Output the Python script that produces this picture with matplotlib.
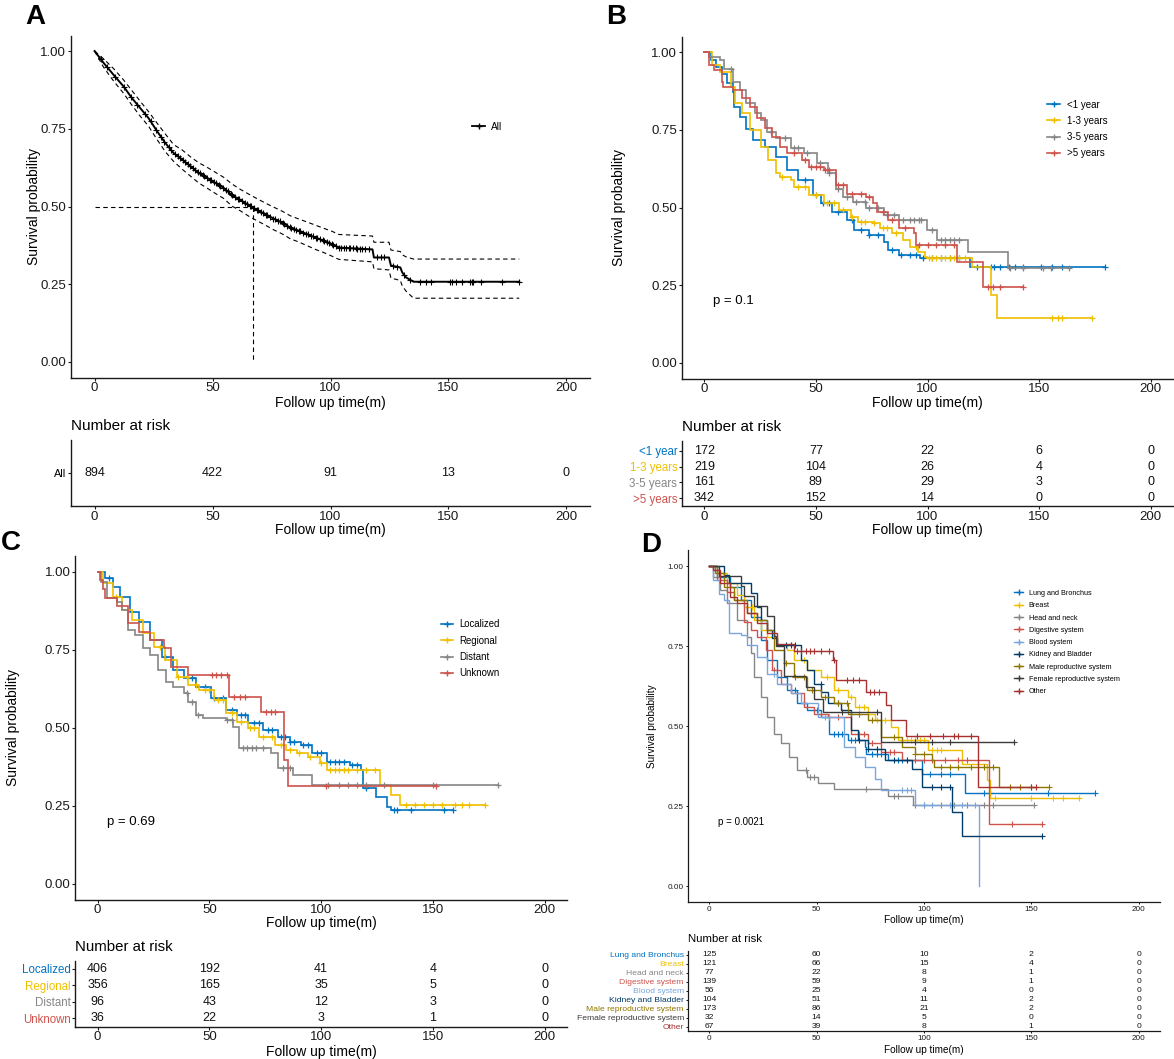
import numpy as np
import matplotlib
matplotlib.use('Agg')
import matplotlib.pyplot as plt
from matplotlib.lines import Line2D

plt.rcParams['font.family'] = ['Liberation Sans', 'DejaVu Sans']

# ---------------- data ----------------
x_ticks = [0, 50, 100, 150, 200]
y_ticks = [0, 0.25, 0.5, 0.75, 1.0]
y_tick_labels = ['0.00', '0.25', '0.50', '0.75', '1.00']
risk_times = [0, 50, 100, 150, 200]
jco = ['#0073C2', '#EFC000', '#868686', '#CD534C', '#7AA6DC',
       '#003C67', '#8F7700', '#3B3B3B', '#A73030']

# Panel A (all patients) - curve vertices
a_times = [0, 3.8, 8.1, 12.3, 15.9, 19.4, 22.9, 26.5, 30, 33.5, 37.1, 40.6, 44.1, 47.7, 51.2,
           54.7, 58.3, 61.8, 65.3, 68.9, 72.4, 75.9, 79.5, 83, 86.5, 90.1, 93.6, 97.1, 100.7,
           103.5, 117.8, 118.4, 124.8, 125.6, 129.6, 130.4, 132, 135.2, 180]
a_surv = [1.0, 0.962, 0.923, 0.886, 0.848, 0.816, 0.784, 0.742, 0.704, 0.672, 0.651, 0.63,
          0.608, 0.592, 0.576, 0.56, 0.536, 0.521, 0.504, 0.489, 0.475, 0.461, 0.448, 0.432,
          0.422, 0.411, 0.4, 0.39, 0.379, 0.368, 0.362, 0.336, 0.336, 0.31, 0.304, 0.288,
          0.272, 0.258, 0.258]
a_upper = [1.0, 0.975, 0.943, 0.907, 0.872, 0.838, 0.805, 0.768, 0.733, 0.699, 0.682, 0.66,
           0.641, 0.626, 0.61, 0.594, 0.572, 0.555, 0.54, 0.525, 0.511, 0.498, 0.485, 0.47,
           0.46, 0.45, 0.44, 0.43, 0.42, 0.41, 0.405, 0.385, 0.385, 0.36, 0.355, 0.345, 0.338,
           0.331, 0.331]
a_lower = [1.0, 0.948, 0.903, 0.864, 0.825, 0.79, 0.758, 0.715, 0.676, 0.645, 0.62, 0.598,
           0.576, 0.559, 0.542, 0.526, 0.501, 0.486, 0.469, 0.454, 0.44, 0.425, 0.412, 0.396,
           0.386, 0.374, 0.362, 0.352, 0.34, 0.33, 0.322, 0.3, 0.296, 0.27, 0.262, 0.245,
           0.228, 0.205, 0.205]
a_censor = [2.7, 5.3, 8.8, 12.4, 15.6, 18.1, 21.3, 23.8, 26.2, 28.1, 29.6, 31.4, 32.3, 33.9,
            35.2, 36.1, 37.4, 38.2, 39.5, 40.3, 41.6, 42.4, 43.7, 44.5, 45.8, 46.3, 47.6, 48.9,
            49.4, 50.7, 51.5, 52.8, 53.3, 54.6, 55.9, 56.4, 57.7, 58.2, 59.5, 60.8, 61.3, 62.6,
            63.9, 64.4, 65.7, 66.2, 67.5, 68.8, 69.3, 70.6, 71.4, 72.7, 73.2, 74.5, 75.8, 76.3,
            77.6, 78.4, 79.7, 80.2, 81.5, 82.8, 83.3, 84.6, 85.4, 86.7, 87.2, 88.5, 89.8, 90.3,
            91.6, 92.4, 93.7, 94.2, 95.5, 96.8, 97.3, 98.6, 99.4, 100.7, 101.2, 102.5, 103.8,
            104.3, 105.6, 106.4, 107.7, 108.2, 109.5, 110.8, 111.3, 112.6, 113.4, 114.7, 116.2,
            119.5, 121.3, 122.8, 126.4, 128.2, 131.1, 133.6, 138, 140.5, 142.8, 150.8, 151.7,
            153.3, 155.7, 159, 159.8, 160.5, 163.6, 172.5, 179.7]
a_median = 67.3
a_names = ['All']
a_risk = [[894, 422, 91, 13, 0]]

# Panel B (by duration)
b_names = ['<1 year', '1-3 years', '3-5 years', '>5 years']
b_times = [
    [0, 3, 5.3, 8, 10, 12.8, 13.5, 16, 18.6, 22, 27, 32, 37.1, 42.1, 48.8, 52.2, 57.2, 63.9,
     67.2, 73.9, 80.6, 82.3, 87.3, 96.5, 119.1],
    [0, 3.6, 6.9, 11.95, 13.6, 17, 20.3, 25.3, 28.7, 32, 33.7, 38.7, 40.4, 47.1, 53.8, 60.5,
     65.5, 68.9, 75.6, 78.9, 83.9, 89, 92.3, 95.7, 99, 99.9, 120, 128.5, 131],
    [0, 1.9, 6.9, 8.6, 12.8, 16.1, 18.6, 22.8, 25.3, 27.9, 32, 38.7, 44.6, 50.5, 55.5, 58.8,
     62.2, 66.4, 72.3, 80.6, 87.3, 99.9, 104.1, 118.3, 135.9],
    [0, 1.9, 4.4, 7.8, 8.5, 12.8, 17, 20.3, 23.7, 27, 30.4, 33.7, 37.1, 43.8, 47.1, 53.8, 58.8,
     63.9, 72.3, 75.6, 77.3, 82.3, 87.3, 94, 94.9, 113.3, 125],
]
b_surv = [
    [1.0, 0.975, 0.953, 0.93, 0.9, 0.87, 0.824, 0.79, 0.754, 0.717, 0.696, 0.663, 0.62, 0.588,
     0.54, 0.513, 0.486, 0.46, 0.428, 0.411, 0.39, 0.363, 0.347, 0.336, 0.31],
    [1.0, 0.958, 0.937, 0.888, 0.835, 0.803, 0.749, 0.696, 0.653, 0.61, 0.599, 0.588, 0.567,
     0.54, 0.513, 0.492, 0.47, 0.454, 0.449, 0.433, 0.417, 0.395, 0.374, 0.358, 0.342, 0.336,
     0.31, 0.22, 0.145],
    [1.0, 0.985, 0.974, 0.947, 0.905, 0.878, 0.835, 0.803, 0.781, 0.744, 0.722, 0.69, 0.674,
     0.642, 0.61, 0.561, 0.535, 0.519, 0.497, 0.476, 0.46, 0.428, 0.395, 0.358, 0.305],
    [1.0, 0.958, 0.942, 0.905, 0.888, 0.878, 0.851, 0.824, 0.787, 0.755, 0.728, 0.696, 0.674,
     0.653, 0.631, 0.62, 0.572, 0.545, 0.535, 0.513, 0.486, 0.46, 0.433, 0.417, 0.379, 0.326,
     0.245],
]
b_end = [179.5, 173.6, 163.5, 142.6]
b_censor = [
    [45, 50, 53, 56, 60, 66, 70, 74, 78, 84, 88, 92, 95, 98, 102, 106, 110, 114, 122, 128.4,
     130, 132.6, 136.7, 139.3, 142.6, 151, 156, 160.2, 179.5],
    [35, 42, 45, 50, 55, 58, 62, 66, 70, 72, 76, 80, 82, 86, 95, 100.5, 102, 104, 106, 108,
     110, 112, 114, 117, 156, 158.5, 160.2, 173.6],
    [12, 30, 36, 40, 42, 46, 52, 56, 60, 64, 68, 72, 74, 78, 82, 85, 89, 92, 94, 96, 97, 102,
     106, 108, 110, 112, 114, 137, 142.6, 151.8, 155.2, 163.5],
    [40, 45, 48, 50, 52, 54, 56, 60, 62, 66, 70, 74, 80, 84, 90, 96, 100, 104, 108, 112, 127,
     129.2, 132.6, 142.6],
]
b_risk = [[172, 77, 22, 6, 0], [219, 104, 26, 4, 0], [161, 89, 29, 3, 0], [342, 152, 14, 0, 0]]
b_pval = 'p = 0.1'

# Panel C (by stage)
c_names = ['Localized', 'Regional', 'Distant', 'Unknown']
c_times = [
    [0, 3.4, 6.8, 10.2, 14.4, 18.6, 23.6, 28.7, 33.7, 38.8, 43.8, 50.5, 57.3, 62.3, 67.4,
     74.1, 80.8, 85.9, 90.9, 96, 102.7, 112.8, 117.9, 118.7, 124.6, 129.6, 131.3],
    [0, 2.6, 6.8, 11, 15.2, 20.3, 25.3, 30.3, 35.4, 40.4, 45.5, 52.2, 57.3, 62.3, 67.4, 72.4,
     79.2, 84.2, 89.3, 94.3, 99.4, 102.7, 126.3, 131.3, 135.5],
    [0, 1.7, 4.3, 8.5, 11, 13.5, 16.9, 20.3, 23.6, 27, 30.4, 33.7, 38.8, 40.4, 43.8, 47.2,
     57.3, 60.6, 63.2, 77.5, 80.8, 87.6, 96],
    [0, 0.9, 2.5, 3.4, 8.5, 13.5, 18.6, 23.6, 29.5, 32.9, 40.4, 58.9, 73.3, 83.4, 85.1],
]
c_surv = [
    [1.0, 0.979, 0.952, 0.92, 0.872, 0.84, 0.781, 0.728, 0.685, 0.659, 0.632, 0.595, 0.557,
     0.541, 0.515, 0.493, 0.472, 0.456, 0.445, 0.419, 0.392, 0.381, 0.365, 0.307, 0.28, 0.248,
     0.237],
    [1.0, 0.963, 0.92, 0.877, 0.845, 0.803, 0.76, 0.717, 0.664, 0.637, 0.621, 0.589, 0.547,
     0.52, 0.499, 0.472, 0.445, 0.429, 0.419, 0.408, 0.387, 0.365, 0.317, 0.285, 0.253],
    [1.0, 0.968, 0.915, 0.904, 0.877, 0.813, 0.797, 0.755, 0.733, 0.685, 0.648, 0.632, 0.611,
     0.584, 0.541, 0.531, 0.525, 0.504, 0.435, 0.419, 0.37, 0.349, 0.317],
    [1.0, 0.972, 0.944, 0.917, 0.889, 0.835, 0.808, 0.781, 0.755, 0.696, 0.669, 0.6, 0.549,
     0.397, 0.315],
]
c_end = [159.1, 173.4, 179.3, 151.5]
c_censor = [
    [5, 30, 42, 48, 52, 56, 60, 64, 66, 70, 72, 76, 78, 82, 84, 86, 88, 92, 94, 98, 100, 104,
     106, 108, 110, 114, 116, 120, 132.5, 134, 140, 155, 159.1],
    [8, 28, 36, 40, 44, 48, 50, 54, 56, 60, 64, 68, 70, 74, 78, 82, 86, 90, 95, 100, 104, 106,
     108, 110, 112, 116, 120, 124, 138, 142, 146, 150, 154, 160, 163, 166, 173.4],
    [40, 42, 45, 58, 60, 65, 67, 69, 71, 74, 83, 86, 103, 108, 112, 116, 120, 128, 150, 179.3],
    [51, 53, 55, 58, 61, 63.5, 66, 75.5, 77.5, 79.5, 102, 151.5],
]
c_risk = [[406, 192, 41, 4, 0], [356, 165, 35, 5, 0], [96, 43, 12, 3, 0], [36, 22, 3, 1, 0]]
c_pval = 'p = 0.69'

# Panel D (by primary site)
d_names = ['Lung and Bronchus', 'Breast', 'Head and neck', 'Digestive system', 'Blood system',
           'Kidney and Bladder', 'Male reproductive system', 'Female reproductive system', 'Other']
d_times = [
    [0, 3.6, 9.9, 14.6, 19.3, 24, 27.1, 31.8, 36.4, 41.1, 45.8, 52.1, 56, 64.6, 72.4, 73,
     83.3, 99, 119.3],
    [0, 3.6, 8.3, 13, 16.1, 20.8, 24, 27.1, 31.8, 36.4, 39.6, 45.8, 52.1, 58.3, 64.6, 67.7,
     74, 77.1, 84.9, 88, 102.1, 117.7, 129.5, 131],
    [0, 2, 5.2, 8.3, 13, 17.7, 19.3, 20.8, 24, 27.1, 30.2, 33.3, 37.2, 41.1, 45.8, 50.5, 58.3,
     83.3, 95.1],
    [0, 3.6, 8.3, 11.4, 16.1, 19.3, 22.4, 26.3, 29.4, 33.3, 38, 44.3, 49, 55.2, 66.1, 74,
     80.2, 89.6, 130.5],
    [0, 2, 4.4, 6.7, 9.1, 14.6, 17.7, 22.4, 27.1, 31.8, 38, 42.7, 50.5, 63, 67.7, 72.4, 77.1,
     80.2, 95.8, 125.5],
    [0, 6.7, 9.1, 19.3, 22.4, 24, 27.1, 29.4, 31.8, 42.7, 45.8, 49, 52.1, 55.2, 61.5, 66.1,
     69.3, 74, 81.8, 94.3, 99, 113, 117.7],
    [0, 2.8, 6.7, 11.4, 17.7, 22.4, 27.1, 30.2, 34.9, 39.6, 45.8, 52.1, 58.3, 64.6, 74, 80.2,
     89.6, 95.8, 103.7, 104.5, 134.9],
    [0, 4.4, 14.6, 16, 20.8, 27.1, 30.2, 31, 34.9, 45.1, 49, 52.9, 80.2],
    [0, 2, 5.2, 9.9, 13, 17.7, 22.4, 27.1, 31.8, 39.6, 57.6, 59.1, 73.2, 82.6, 84.9, 91.9,
     125.2],
]
d_surv = [
    [1.0, 0.967, 0.935, 0.894, 0.842, 0.769, 0.706, 0.654, 0.612, 0.571, 0.55, 0.529, 0.477,
     0.456, 0.435, 0.414, 0.394, 0.352, 0.291],
    [1.0, 0.977, 0.946, 0.909, 0.873, 0.831, 0.8, 0.779, 0.753, 0.737, 0.706, 0.675, 0.654,
     0.612, 0.592, 0.56, 0.539, 0.519, 0.498, 0.456, 0.427, 0.383, 0.333, 0.277],
    [1.0, 0.967, 0.925, 0.883, 0.831, 0.779, 0.727, 0.654, 0.592, 0.529, 0.477, 0.446, 0.404,
     0.362, 0.341, 0.321, 0.305, 0.281, 0.253],
    [1.0, 0.956, 0.92, 0.894, 0.826, 0.8, 0.779, 0.737, 0.675, 0.633, 0.602, 0.56, 0.539,
     0.529, 0.477, 0.446, 0.42, 0.394, 0.193],
    [1.0, 0.956, 0.914, 0.894, 0.79, 0.784, 0.753, 0.717, 0.664, 0.633, 0.602, 0.571, 0.529,
     0.435, 0.404, 0.373, 0.336, 0.3, 0.253, 0.0],
    [1.0, 0.972, 0.946, 0.915, 0.873, 0.831, 0.8, 0.774, 0.753, 0.706, 0.675, 0.633, 0.607,
     0.571, 0.55, 0.487, 0.456, 0.43, 0.394, 0.367, 0.31, 0.232, 0.156],
    [1.0, 0.977, 0.935, 0.894, 0.852, 0.831, 0.8, 0.737, 0.696, 0.654, 0.612, 0.592, 0.571,
     0.539, 0.519, 0.467, 0.435, 0.414, 0.394, 0.373, 0.31],
    [1.0, 0.969, 0.938, 0.906, 0.875, 0.844, 0.781, 0.75, 0.656, 0.623, 0.586, 0.545, 0.451],
    [1.0, 0.988, 0.946, 0.904, 0.883, 0.852, 0.821, 0.79, 0.758, 0.735, 0.706, 0.644, 0.607,
     0.565, 0.519, 0.469, 0.31],
]
d_end = [179.5, 172.4, 151.3, 155.2, 125.5, 155.2, 158.4, 142, 152.1]
d_censor = [
    [40, 44, 50, 58, 60, 62, 66, 68, 76, 78, 80, 88, 90, 103, 108, 112, 128, 131, 158, 179.5],
    [20, 44, 55, 60, 66, 70, 72, 78, 82, 90, 92, 94, 96, 98, 100, 104, 106, 108, 133, 150,
     160, 165, 172.4],
    [45, 47, 49, 73, 86, 88, 96, 100, 108, 114, 120, 128, 132, 151.3],
    [30, 52, 56, 60, 70, 72, 76, 84, 86, 96, 100, 104, 110, 116, 120, 141, 155.2],
    [30, 54, 56, 90, 92, 94, 100, 104, 112, 118, 124],
    [36, 38, 40, 52, 60, 70, 74, 78, 86, 92, 104, 108, 112, 155.2],
    [36, 40, 44, 48, 54, 60, 64, 66, 70, 76, 86, 96, 100, 108, 112, 116, 122, 128, 132, 140,
     145, 150, 158.4],
    [62, 78, 96, 104, 112, 142],
    [41, 43, 45, 47, 49, 52, 56, 58, 64, 67, 70, 75, 77, 79, 97, 103, 109, 114, 116, 122, 150,
     152.1],
]
d_risk = [[125, 60, 10, 2, 0], [121, 66, 15, 4, 0], [77, 22, 8, 1, 0], [139, 59, 9, 1, 0],
          [56, 25, 4, 0, 0], [104, 51, 11, 2, 0], [173, 86, 21, 2, 0], [32, 14, 5, 0, 0],
          [67, 39, 8, 1, 0]]
d_pval = 'p = 0.0021'

# ---------------- layout ----------------
W, H = 1174, 1059
fig = plt.figure(figsize=(W / 100, H / 100), dpi=100)
fig.patch.set_facecolor('white')


def add_ax(px):
    l, t, r, b = px
    return fig.add_axes([l / W, 1 - b / H, (r - l) / W, (b - t) / H])


def fy(px, y):
    l, t, r, b = px
    return (b - y) / (b - t)


def fx(px, x):
    l, t, r, b = px
    return (x - l) / (r - l)


def surv_at(times, surv, c):
    idx = np.searchsorted(np.asarray(times), np.asarray(c), side='right') - 1
    return np.asarray(surv)[idx]


def km(ax, times, surv, t_end, censor, color, lw, ms, mew, ls='-'):
    xs = list(times) + [t_end]
    ys = list(surv) + [surv[-1]]
    ax.plot(xs, ys, drawstyle='steps-post', color=color, lw=lw, ls=ls, solid_joinstyle='miter')
    if censor is not None and len(censor):
        ax.plot(censor, surv_at(times, surv, censor), ls='none', marker='+', ms=ms, mew=mew,
                color=color)


def style(ax, fs, lw, tick_len):
    for s in ['top', 'right']:
        ax.spines[s].set_visible(False)
    for s in ['left', 'bottom']:
        ax.spines[s].set_linewidth(lw)
        ax.spines[s].set_color('#1a1a1a')
    ax.tick_params(length=tick_len, width=lw * 0.8, pad=1.2, labelsize=fs, colors='#1a1a1a')
    ax.set_xlim(-10, 210)
    ax.set_xticks(x_ticks)


def main_panel(px, fs_tick, fs_lab, xlab_y, ylab_x, lw_ax, tick_len):
    ax = add_ax(px)
    style(ax, fs_tick, lw_ax, tick_len)
    ax.set_ylim(-0.05, 1.05)
    ax.set_yticks(y_ticks)
    ax.set_yticklabels(y_tick_labels)
    ax.set_xlabel('Follow up time(m)', fontsize=fs_lab, va='center')
    ax.xaxis.set_label_coords(0.5, fy(px, xlab_y))
    ax.set_ylabel('Survival probability', fontsize=fs_lab, va='center')
    ax.yaxis.set_label_coords(fx(px, ylab_x), 0.5)
    return ax


def risk_panel(px, names, risk, colors, fs_tick, fs_lab, fs_num, fs_name, fs_title,
               title_y, xlab_y, lw_ax, tick_len, y_top=0.5):
    ax = add_ax(px)
    style(ax, fs_tick, lw_ax, tick_len)
    n = len(names)
    ax.set_ylim(n + 0.5, y_top)
    ax.set_yticks(range(1, n + 1))
    ax.set_yticklabels(names, fontsize=fs_name)
    for lab, c in zip(ax.get_yticklabels(), colors):
        lab.set_color(c)
    for i, row in enumerate(risk):
        for tt, v in zip(risk_times, row):
            ax.text(tt, i + 1, str(v), ha='center', va='center', fontsize=fs_num, color='#111111')
    ax.set_xlabel('Follow up time(m)', fontsize=fs_lab, va='center')
    ax.xaxis.set_label_coords(0.5, fy(px, xlab_y))
    ax.set_title('Number at risk', loc='left', fontsize=fs_title, va='center',
                 y=fy(px, title_y), pad=0)
    return ax


def legend(ax, px, names, colors, fs, x_px, yc_px, lw, ms, hl, htp, spacing):
    handles = [Line2D([], [], color=c, lw=lw, marker='+', ms=ms, mew=1.0) for c in colors]
    ax.legend(handles, names, loc='center left', bbox_to_anchor=(fx(px, x_px), fy(px, yc_px)),
              frameon=False, fontsize=fs, handlelength=hl, handletextpad=htp, borderpad=0,
              borderaxespad=0, labelspacing=spacing, numpoints=1)


dash = (0, (4, 3))

# ---------- Panel A ----------
A_main = (71, 35.5, 590, 377.5)
A_tab = (71, 440, 590, 506)
ax = main_panel(A_main, 9.5, 10, 403, 34, 1.0, 2.2)
ax.plot(a_times, a_upper, color='black', lw=0.8, ls=dash)
ax.plot(a_times, a_lower, color='black', lw=0.8, ls=dash)
ax.plot(a_times, a_surv, color='black', lw=1.4)
ax.plot(a_censor, np.interp(a_censor, a_times, a_surv), ls='none', marker='+', ms=5, mew=0.8,
        color='black')
ax.plot([0, a_median], [0.5, 0.5], color='black', lw=0.8, ls=dash)
ax.plot([a_median, a_median], [0.5, 0], color='black', lw=0.8, ls=dash)
legend(ax, A_main, a_names, ['black'], 7.3, 472, 126.7, 1.3, 5, 1.3, 0.55, 0.55)
risk_panel(A_tab, a_names, a_risk, ['black'], 9.5, 10, 9, 7.8, 11, 425.7, 530, 1.0, 2.2)

# ---------- Panel B ----------
B_main = (682, 36.5, 1173, 378.5)
B_tab = (682, 441.5, 1173, 506)
ax = main_panel(B_main, 9.5, 10, 403, 619, 1.0, 2.2)
for i in range(4):
    km(ax, b_times[i], b_surv[i], b_end[i], b_censor[i], jco[i], 1.2, 5, 0.9)
ax.text(4, 0.2, b_pval, ha='left', va='center', fontsize=9.5)
legend(ax, B_main, b_names, jco[:4], 7, 1047, 128.9, 1.2, 5, 1.35, 0.69, 0.63)
risk_panel(B_tab, b_names, b_risk, jco[:4], 9.5, 10, 9, 8.3, 11, 426.7, 530, 1.0, 2.2,
           y_top=0.4)

# ---------- Panel C ----------
C_main = (75.3, 556, 567, 899.6)
C_tab = (75.3, 960.7, 567, 1026.7)
ax = main_panel(C_main, 9.5, 10, 923, 13, 1.0, 2.2)
for i in range(4):
    km(ax, c_times[i], c_surv[i], c_end[i], c_censor[i], jco[i], 1.2, 5, 0.9)
ax.text(4, 0.2, c_pval, ha='left', va='center', fontsize=9.5)
legend(ax, C_main, c_names, jco[:4], 6.9, 441, 648.7, 1.2, 5, 1.25, 0.7, 0.66)
risk_panel(C_tab, c_names, c_risk, jco[:4], 9.5, 10, 9, 8.3, 10.8, 947, 1052, 1.0, 2.2)

# ---------- Panel D ----------
D_main = (687.7, 550, 1160, 902.3)
D_tab = (687.7, 950.5, 1160, 1031)
ax = main_panel(D_main, 5.9, 7.2, 920, 652, 0.9, 1.6)
for i in range(9):
    km(ax, d_times[i], d_surv[i], d_end[i], d_censor[i], jco[i], 1.0, 3.8, 0.8)
ax.text(4, 0.2, d_pval, ha='left', va='center', fontsize=7)
legend(ax, D_main, d_names, jco, 5.2, 1014, 642.5, 1.0, 3.8, 1.25, 0.8, 0.72)
risk_panel(D_tab, d_names, d_risk, jco, 5.9, 7.2, 6.1, 6.1, 8.2, 939, 1050, 0.9, 1.6)

# panel letters
for letter, x, y in [('A', 25, 4), ('B', 606, 4), ('C', 1, 530), ('D', 641, 532)]:
    fig.text(x / W, 1 - y / H, letter, fontsize=20, fontweight='bold', ha='left', va='top')

fig.savefig('out.png', dpi=100, facecolor='white')
